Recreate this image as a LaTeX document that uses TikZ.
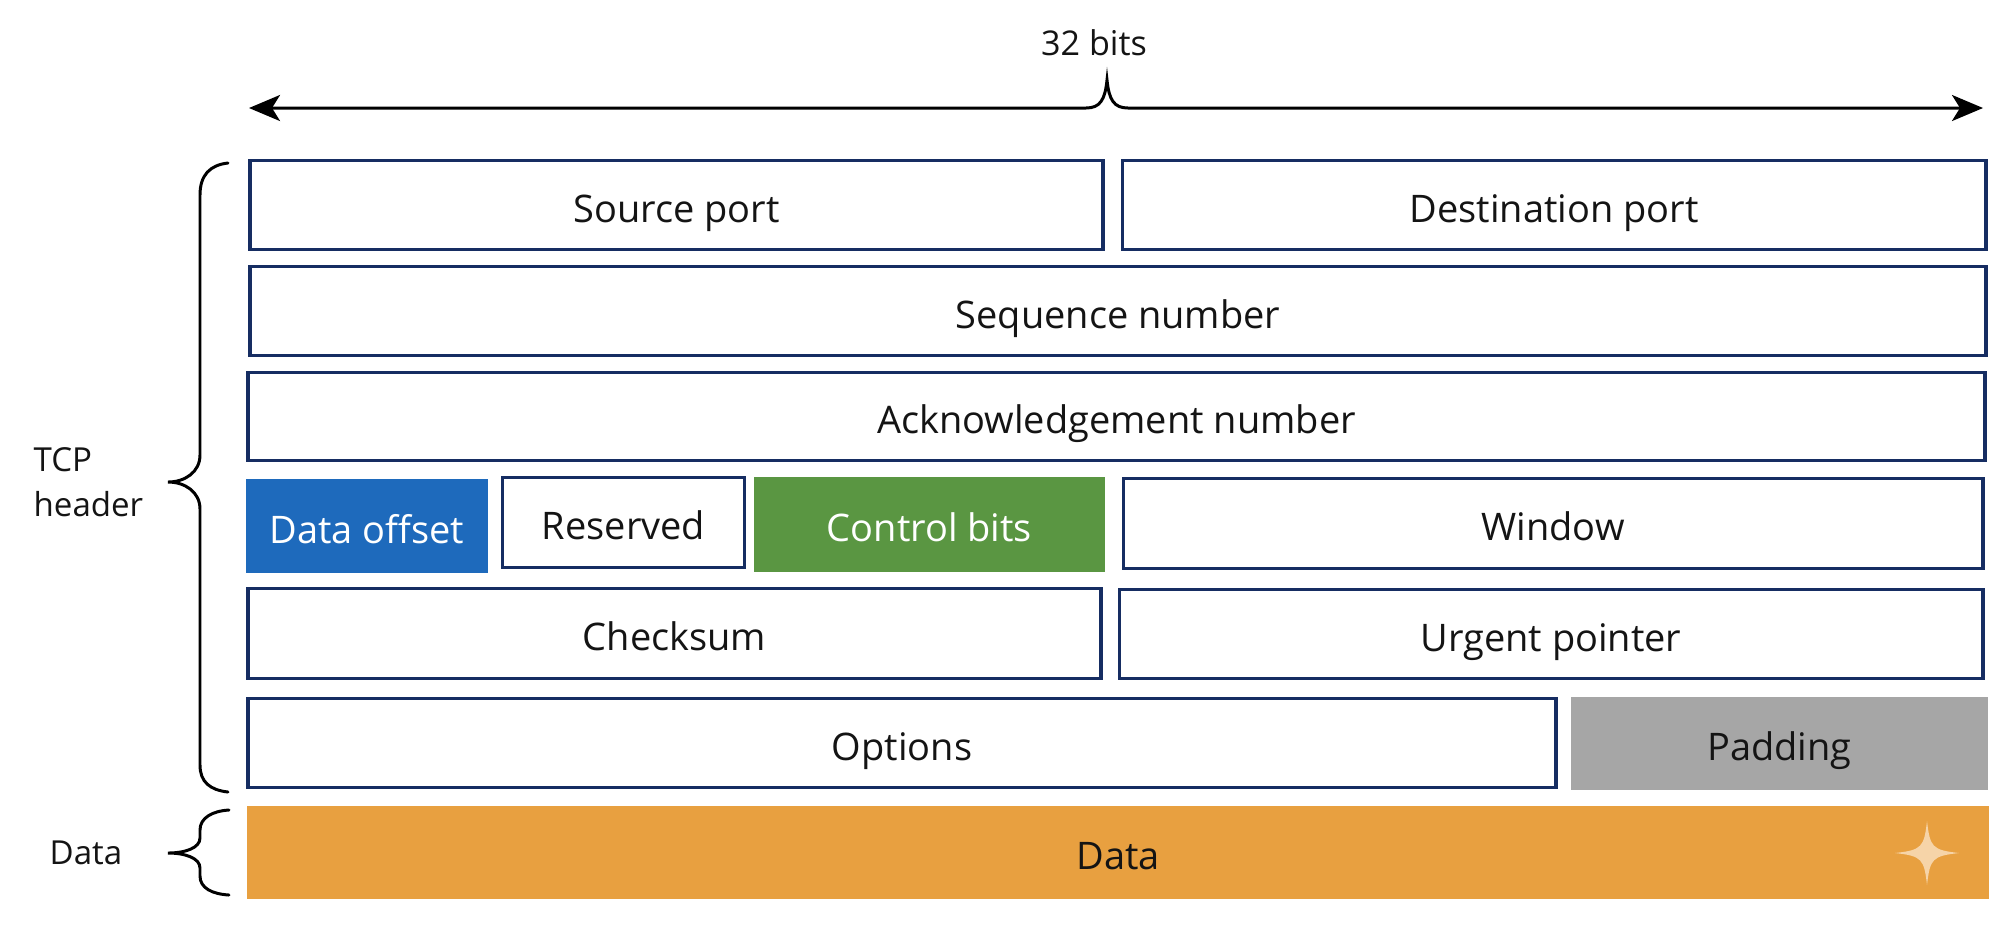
\documentclass[tikz,border=0pt]{standalone}
\usepackage{fontspec}
\setmainfont{Open Sans}
\usetikzlibrary{arrows.meta}
\definecolor{navy}{RGB}{22,45,98}
\definecolor{txt}{RGB}{20,20,20}
\definecolor{doffblue}{RGB}{30,106,188}
\definecolor{ctlgreen}{RGB}{90,150,66}
\definecolor{padgray}{RGB}{166,166,166}
\definecolor{dataorange}{RGB}{232,160,64}
\definecolor{starc}{RGB}{246,212,168}
\begin{document}
\begin{tikzpicture}[x=0.01cm,y=-0.01cm,
  field/.style={draw=navy, line width=1pt, fill=white, inner sep=0pt, outer sep=0pt,
    font=\fontsize{10.8}{12}\selectfont, text=txt, text height=0.34cm, text depth=0pt},
  filled/.style={draw=none, inner sep=0pt, outer sep=0pt,
    font=\fontsize{10.8}{12}\selectfont, text height=0.34cm, text depth=0pt},
  sidelabel/.style={inner sep=0pt, font=\fontsize{9.4}{12.8}\selectfont, text=txt},
  bracepath/.style={draw=black, line width=0.85pt, line cap=round},
  dimline/.style={draw=black, line width=0.85pt,
    {Stealth[length=0.31cm,width=0.26cm,inset=0.08cm]}-{Stealth[length=0.31cm,width=0.26cm,inset=0.08cm]}}
]
\useasboundingbox (0,0) rectangle (2000,926);
\fill[white] (0,0) rectangle (2000,926);

% top dimension line
\node[sidelabel, font=\fontsize{9.7}{12}\selectfont] (bits) at (1094,43) {32 bits};
\coordinate (aL) at (249,108);
\coordinate (aR) at (1983,108);
\coordinate (pk) at (1107,80);
\draw[dimline] (aL) -- (1086,108) .. controls (1100,108) and (1105,100) .. (pk)
  .. controls (1109,100) and (1114,108) .. (1128,108) -- (aR);

% row 1
\node[field, minimum width=8.52cm, minimum height=0.89cm] (src) at (676.5,205) {Source port};
\node[field, minimum width=8.63cm, minimum height=0.89cm] (dst) at (1554,205) {Destination port};
% row 2
\node[field, minimum width=17.35cm, minimum height=0.89cm] (seq) at (1118,311) {Sequence number};
% row 3
\node[field, minimum width=17.36cm, minimum height=0.88cm] (ack) at (1116.5,416.5) {Acknowledgement number};
% row 4
\node[filled, fill=doffblue, text=white, minimum width=2.42cm, minimum height=0.94cm] (doff) at (367,526) {Data offset};
\node[field, minimum width=2.42cm, minimum height=0.90cm] (res) at (623.5,522.5) {Reserved};
\node[filled, fill=ctlgreen, text=white, minimum width=3.51cm, minimum height=0.95cm] (ctl) at (929.5,524.5) {Control bits};
\node[field, minimum width=8.59cm, minimum height=0.90cm] (win) at (1553,523.5) {Window};
% row 5
\node[field, minimum width=8.52cm, minimum height=0.90cm] (chk) at (674.5,633.5) {Checksum};
\node[field, minimum width=8.63cm, minimum height=0.89cm] (urg) at (1551,634) {Urgent pointer};
% row 6
\node[field, minimum width=13.07cm, minimum height=0.89cm] (opt) at (902,743) {Options};
\node[filled, fill=padgray, text=txt, minimum width=4.17cm, minimum height=0.93cm] (pad) at (1779.5,743.5) {Padding};
% data
\node[filled, fill=dataorange, text=txt, minimum width=17.40cm, minimum height=0.93cm] (data) at (1118,852.5) {Data};
\fill[starc] (1927,821) .. controls (1930,847) and (1932,850) .. (1959,853)
  .. controls (1932,856) and (1930,859) .. (1927,885)
  .. controls (1924,859) and (1922,856) .. (1895,853)
  .. controls (1922,850) and (1924,847) .. (1927,821) -- cycle;

% side labels and braces
\node[sidelabel, align=left, anchor=west] (tcp) at (33,482) {TCP\\header};
\node[sidelabel] (dlab) at (86,853) {Data};
\draw[bracepath] (228,163) .. controls (210,165) and (200,175) .. (200,195) -- (200,455)
  .. controls (200,472) and (185,482) .. (168,482)
  .. controls (185,482) and (200,492) .. (200,509) -- (200,765)
  .. controls (200,782) and (210,790) .. (228,792);
\draw[bracepath] (229,810) .. controls (212,811) and (200,818) .. (200,830) -- (200,838)
  .. controls (200,848) and (185,853) .. (168,853)
  .. controls (185,853) and (200,858) .. (200,868) -- (200,876)
  .. controls (200,888) and (212,894) .. (229,895);
\end{tikzpicture}
\end{document}
